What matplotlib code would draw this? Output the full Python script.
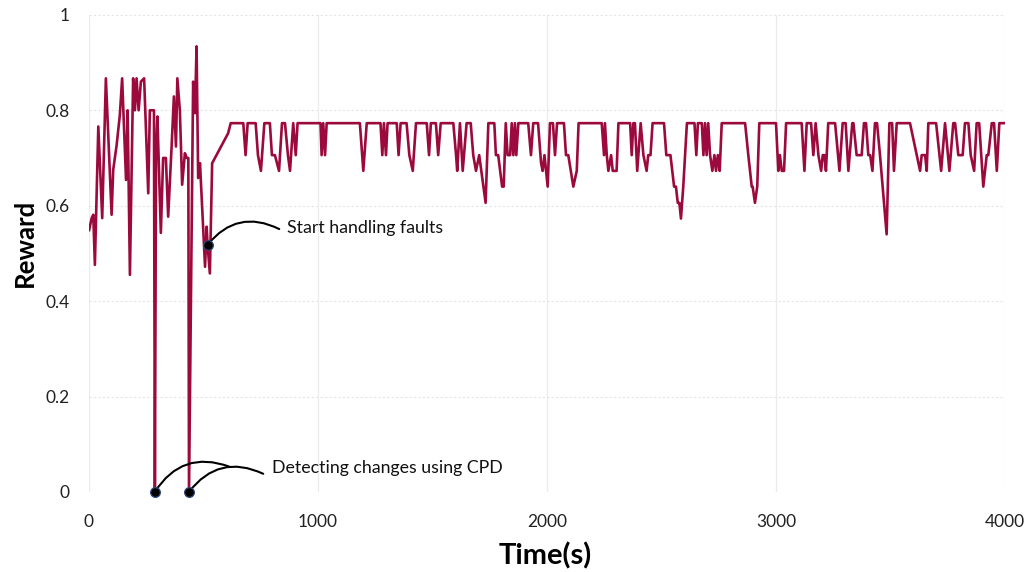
import matplotlib
matplotlib.use("Agg")
import matplotlib.pyplot as plt
from matplotlib.ticker import FuncFormatter

plt.rcParams['font.family'] = ['Lato', 'DejaVu Sans']

# reward trace (time in seconds, reward)
time_s = [
    1, 12, 19, 26, 41, 58, 74, 99, 106, 121, 135, 145, 162, 169, 179, 193, 201, 208,
    217, 227, 241, 259, 266, 284, 288, 293, 299, 314, 324, 336, 346, 361, 371, 380,
    386, 397, 407, 419, 427, 434, 437, 455, 463, 470, 477, 485, 507, 514, 518, 528,
    538, 608, 619,
    674, 684, 693, 728, 738, 751, 766, 790, 799, 812, 830, 843, 856, 869, 878, 892,
    903, 911, 1011, 1016, 1023, 1031, 1038, 1183, 1198, 1213, 1273, 1281, 1288, 1297,
    1304, 1344, 1352, 1361, 1387, 1399, 1414, 1428, 1475, 1485, 1493, 1515, 1525, 1536,
    1591, 1603, 1608, 1620, 1632, 1649, 1667, 1678, 1690, 1704, 1732, 1744, 1770, 1777,
    1787, 1804, 1811, 1820, 1828, 1839, 1846, 1853, 1860, 1866, 1875, 1918, 1930, 1940,
    1961, 1974, 1981, 1989, 2003, 2013, 2026, 2035, 2044, 2074, 2083, 2093, 2115, 2130,
    2138, 2239, 2249, 2253, 2261, 2268, 2280, 2287, 2304, 2312, 2363, 2370, 2377, 2384,
    2394, 2409, 2421, 2435, 2442, 2452, 2461, 2511, 2521, 2539, 2555, 2563, 2571, 2578,
    2585, 2595, 2611, 2644, 2652, 2659, 2676, 2683, 2690, 2697, 2704, 2712, 2722, 2731,
    2738, 2746, 2754, 2763, 2865, 2879, 2894, 2898, 2908, 2918, 2927, 3000, 3010, 3017,
    3025, 3035, 3044, 3112, 3124, 3134, 3153, 3163, 3173, 3185, 3197, 3204, 3211, 3218,
    3228, 3258, 3277, 3291, 3304, 3316, 3333, 3338, 3352, 3374, 3384, 3393, 3403, 3411,
    3421, 3432, 3441, 3454, 3483, 3495, 3507, 3515, 3527, 3585, 3629, 3636, 3651, 3658,
    3665, 3699, 3721, 3738, 3757, 3774, 3782, 3796, 3815, 3825, 3840, 3850, 3865, 3876,
    3887, 3905, 3920, 3927, 3942, 3952, 3964, 3975, 4000,
]
reward = [
    0.549, 0.574, 0.581, 0.476, 0.766, 0.574, 0.867, 0.581, 0.675, 0.727, 0.790, 0.867,
    0.654, 0.800, 0.455, 0.867, 0.800, 0.867, 0.800, 0.860, 0.867, 0.626, 0.800, 0.800,
    0.000, 0.717, 0.787, 0.543, 0.700, 0.700, 0.577, 0.724, 0.829, 0.724, 0.867, 0.800,
    0.644, 0.710, 0.700, 0.700, 0.000, 0.860, 0.794, 0.934, 0.658, 0.689, 0.472, 0.556,
    0.518, 0.458, 0.689, 0.752, 0.773,
    0.773, 0.706, 0.773, 0.773, 0.706, 0.673, 0.773, 0.773, 0.706, 0.706, 0.673, 0.773,
    0.773, 0.706, 0.673, 0.773, 0.706, 0.773, 0.773, 0.706, 0.773, 0.706, 0.773, 0.773,
    0.673, 0.773, 0.773, 0.706, 0.773, 0.706, 0.773, 0.773, 0.706, 0.773, 0.773, 0.706,
    0.673, 0.773, 0.773, 0.706, 0.773, 0.773, 0.706, 0.773, 0.773, 0.706, 0.673, 0.773,
    0.673, 0.773, 0.773, 0.706, 0.673, 0.706, 0.606, 0.773, 0.773, 0.706, 0.706, 0.640,
    0.640, 0.773, 0.706, 0.706, 0.773, 0.706, 0.773, 0.706, 0.773, 0.773, 0.706, 0.773,
    0.773, 0.690, 0.673, 0.706, 0.640, 0.773, 0.773, 0.706, 0.773, 0.773, 0.706, 0.706,
    0.640, 0.673, 0.773, 0.773, 0.706, 0.773, 0.706, 0.673, 0.706, 0.673, 0.673, 0.773,
    0.773, 0.706, 0.773, 0.773, 0.673, 0.773, 0.706, 0.673, 0.706, 0.706, 0.773, 0.773,
    0.706, 0.706, 0.640, 0.640, 0.606, 0.606, 0.573, 0.640, 0.773, 0.773, 0.706, 0.773,
    0.773, 0.706, 0.773, 0.706, 0.773, 0.706, 0.673, 0.706, 0.673, 0.706, 0.673, 0.773,
    0.773, 0.706, 0.640, 0.640, 0.606, 0.640, 0.773, 0.773, 0.673, 0.706, 0.673, 0.673,
    0.773, 0.773, 0.673, 0.773, 0.773, 0.706, 0.773, 0.706, 0.673, 0.706, 0.706, 0.673,
    0.773, 0.773, 0.673, 0.773, 0.773, 0.673, 0.773, 0.773, 0.706, 0.706, 0.773, 0.773,
    0.706, 0.706, 0.673, 0.773, 0.773, 0.706, 0.540, 0.773, 0.773, 0.673, 0.773, 0.773,
    0.673, 0.706, 0.706, 0.673, 0.773, 0.773, 0.673, 0.773, 0.673, 0.773, 0.773, 0.706,
    0.706, 0.773, 0.773, 0.706, 0.673, 0.773, 0.773, 0.640, 0.706, 0.706, 0.773, 0.773,
    0.673, 0.773, 0.773,
]

# change points flagged by CPD, and the moment fault handling starts
cpd_times = [288, 437]
cpd_rewards = [0.0, 0.0]
handling_time = 518
handling_reward = 0.518

x_ticks = [0, 1000, 2000, 3000, 4000]
y_ticks = [0, 0.2, 0.4, 0.6, 0.8, 1.0]

LINE_COLOR = '#9C0A3D'

fig = plt.figure(figsize=(10.34, 5.72), dpi=100)
ax = fig.add_axes([0.086, 0.14, 0.886, 0.834])

ax.plot(time_s, reward, color=LINE_COLOR, lw=1.9, zorder=3)

ax.set_xlim(0, 4000)
ax.set_ylim(0, 1)
ax.set_xticks(x_ticks)
ax.set_yticks(y_ticks)
ax.yaxis.set_major_formatter(FuncFormatter(lambda v, _: f'{v:g}'))
ax.tick_params(axis='both', length=0, labelsize=12.5, colors='#222222')
ax.tick_params(axis='x', pad=16)
ax.tick_params(axis='y', pad=14)

for s in ax.spines.values():
    s.set_visible(False)
ax.grid(axis='y', color='#E4E4E4', lw=0.8, linestyle=(0, (2, 2)), zorder=0)
ax.grid(axis='x', color='#EBEBEB', lw=0.9, zorder=0)

# axis titles placed in figure coordinates
fig.text(0.527, 0.028, 'Time(s)', fontsize=21, fontweight='bold',
         ha='center', va='center')
fig.text(0.0245, 0.575, 'Reward', fontsize=18.5, fontweight='bold',
         rotation=90, ha='center', va='center')

# markers for the detected changes and start of fault handling
dot_kw = dict(marker='o', linestyle='none', markerfacecolor='black',
              markeredgecolor='#2F4A7A', markersize=7, markeredgewidth=0.9,
              zorder=6, clip_on=False)
ax.plot(cpd_times, cpd_rewards, **dot_kw)
ax.plot([handling_time], [handling_reward], **dot_kw)

arc = dict(arrowstyle='-', color='black', lw=1.5, shrinkA=0, shrinkB=0,
           connectionstyle='arc3,rad=-0.4')
ax.annotate('', xy=(613, 0.053), xytext=(cpd_times[0], cpd_rewards[0]),
            arrowprops=arc, annotation_clip=False)
ax.annotate('', xy=(761, 0.038), xytext=(cpd_times[1], cpd_rewards[1]),
            arrowprops=arc, annotation_clip=False)
ax.text(798, 0.05, 'Detecting changes using CPD', fontsize=12.8,
        ha='left', va='center', color='#111111')

ax.annotate('', xy=(831, 0.551), xytext=(handling_time, handling_reward),
            arrowprops=arc)
ax.text(865, 0.553, 'Start handling faults', fontsize=12.8,
        ha='left', va='center', color='#111111')

fig.savefig('out.png', dpi=100)
